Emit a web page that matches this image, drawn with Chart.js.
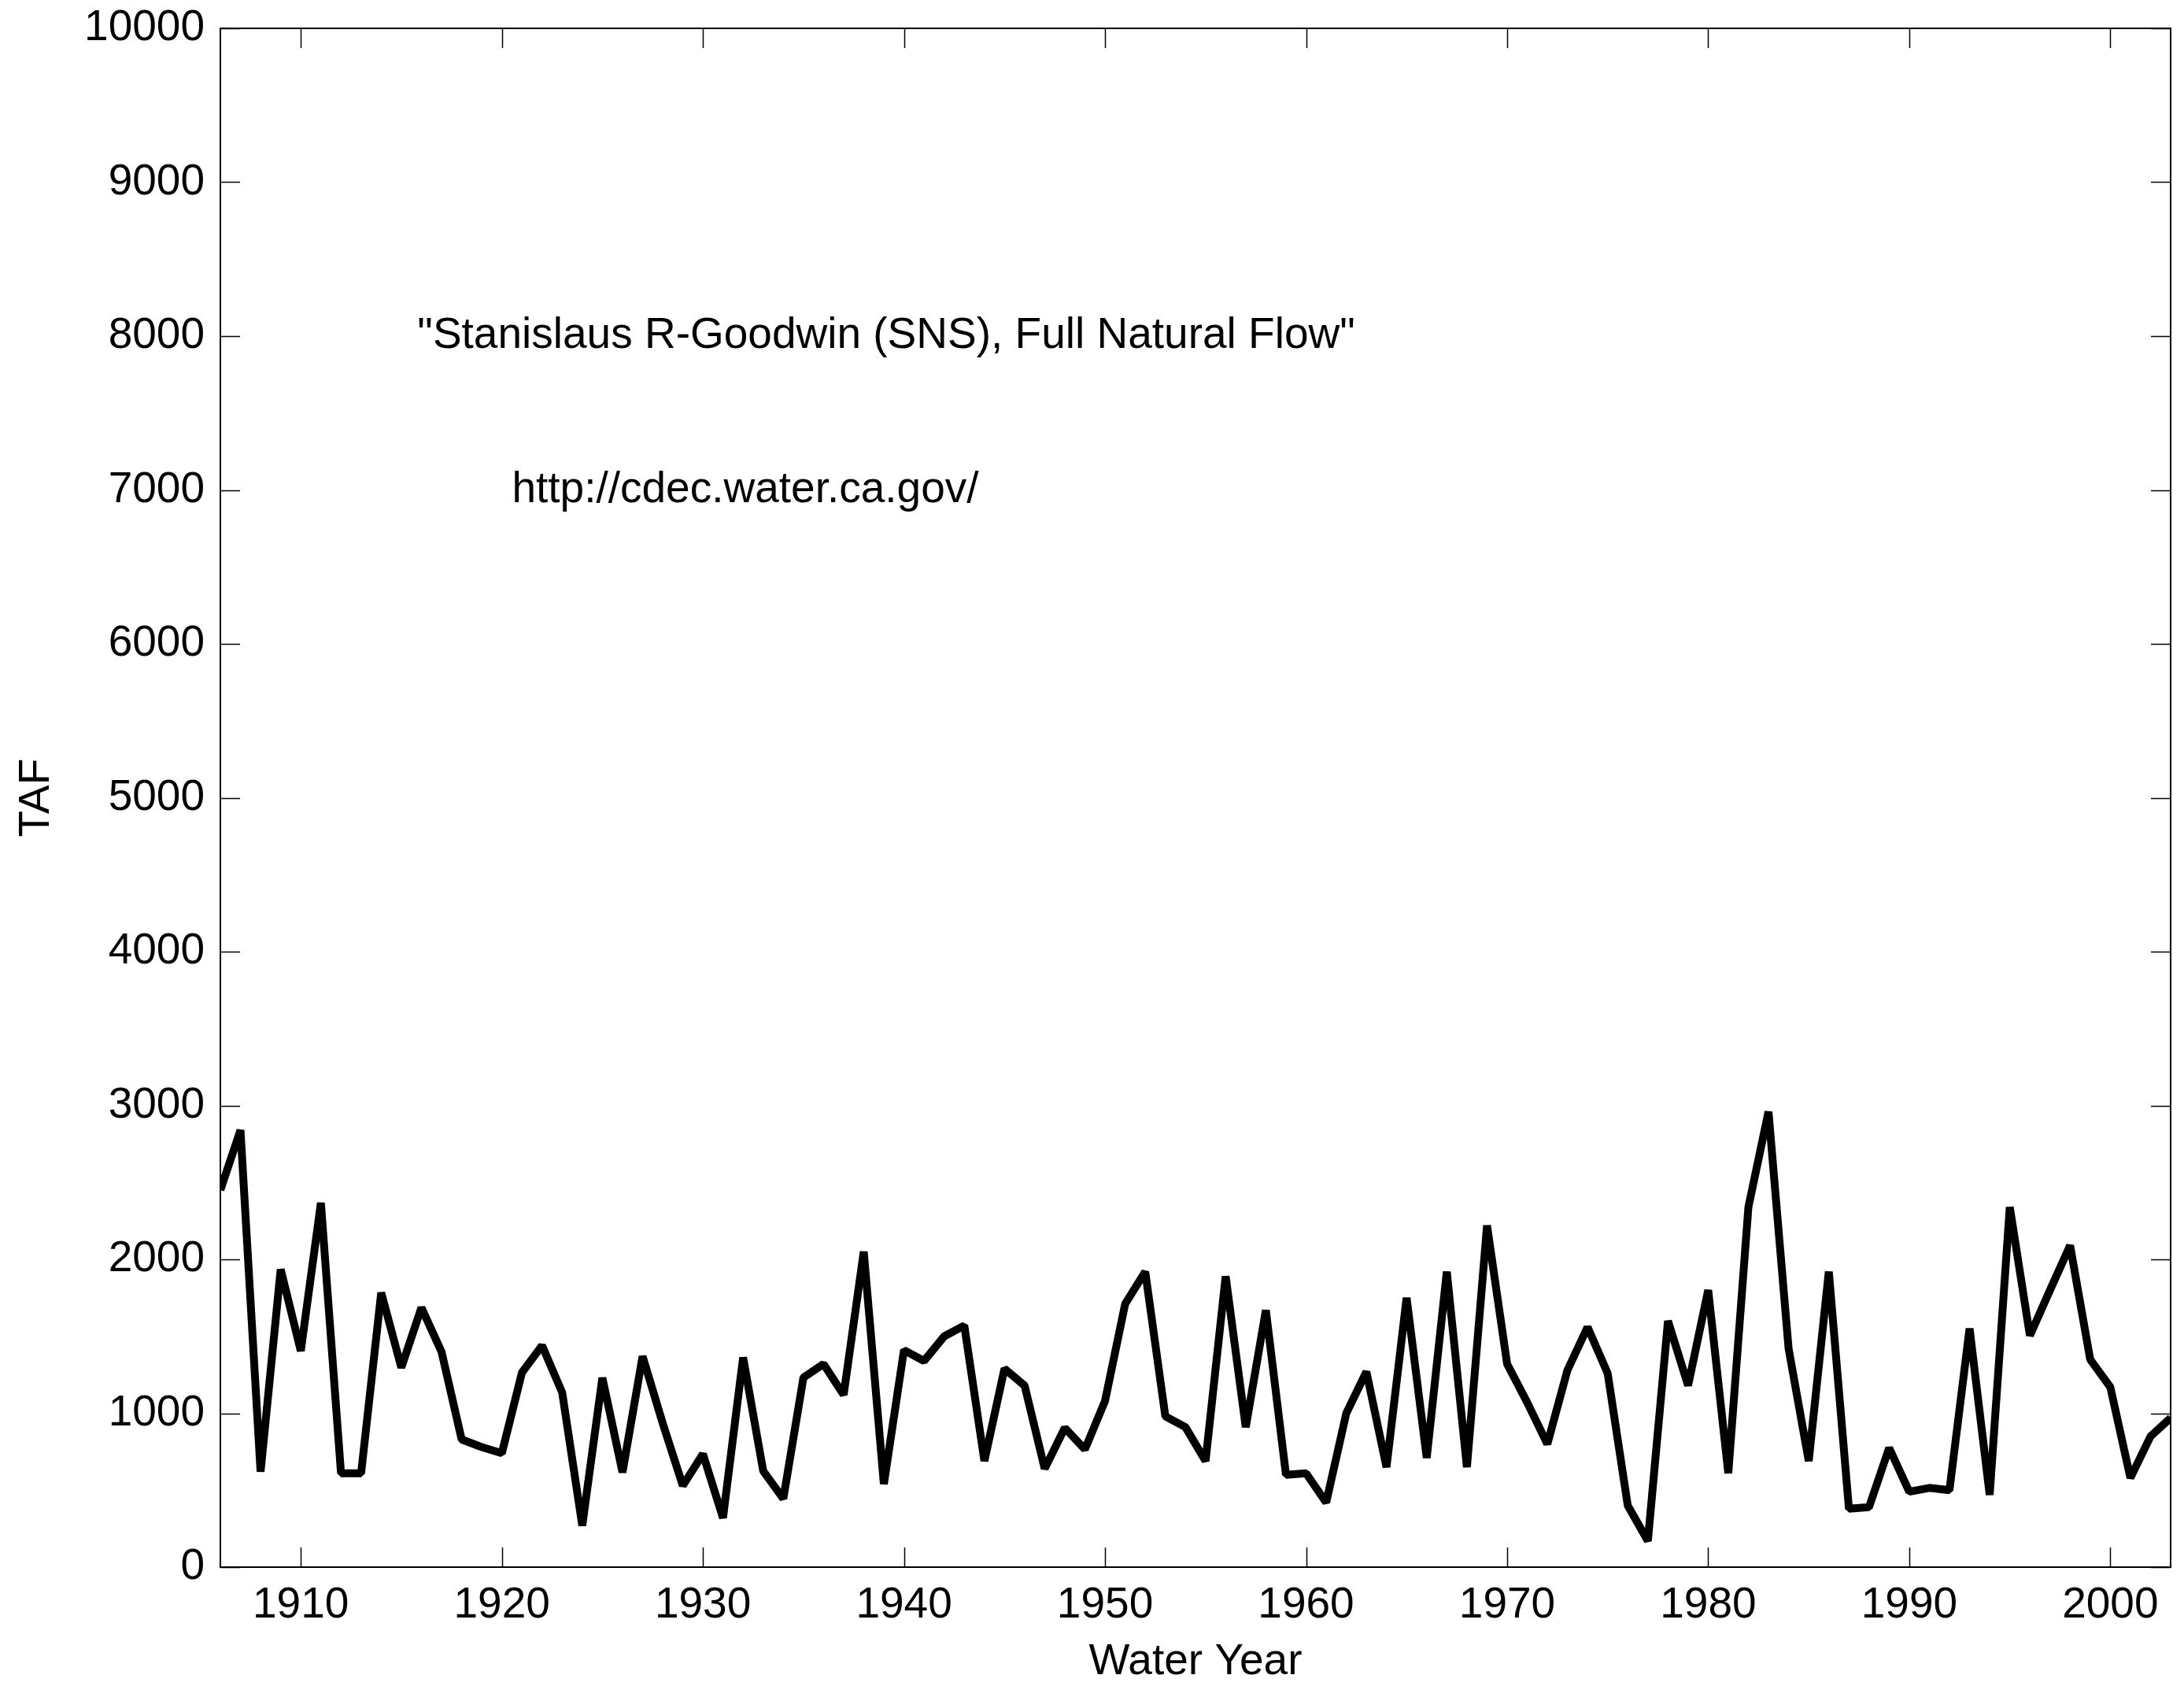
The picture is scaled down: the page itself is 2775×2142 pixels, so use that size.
<!DOCTYPE html>
<html>
<head>
<meta charset="utf-8">
<script src="https://cdn.jsdelivr.net/npm/chart.js@4.4.1/dist/chart.umd.min.js"></script>
<style>
  body { margin: 0; background: #fff; }
  #wrap { width: 2775px; height: 2142px; }
</style>
</head>
<body>
<div id="wrap"><canvas id="flowChart" width="2775" height="2142"></canvas></div>
<script>
// Water years and annual full natural flow (TAF)
var years = [];
for (var y = 1906; y <= 2003; y++) years.push(y);

var flow = [
  2450, 2840, 620, 1935, 1405, 2368, 610, 610, 1784, 1297,   // 1906-1915
  1686, 1400, 830, 780, 740, 1265, 1440, 1135, 270, 1230,    // 1916-1925
  616, 1370, 935, 530, 735, 320, 1362, 625, 445, 1232,       // 1926-1935
  1320, 1120, 2050, 540, 1410, 1340, 1500, 1570, 690, 1290,  // 1936-1945
  1180, 640, 905, 765, 1080, 1710, 1920, 980, 910, 690,      // 1946-1955
  1890, 910, 1670, 600, 610, 420, 1000, 1270, 650, 1750,     // 1956-1965
  710, 1920, 650, 2220, 1320, 1070, 800, 1280, 1560, 1260,   // 1966-1975
  400, 170, 1600, 1180, 1800, 610, 2340, 2960, 1420, 690,    // 1976-1985
  1920, 380, 390, 775, 490, 515, 500, 1550, 470, 2340,       // 1986-1995
  1505, 1800, 2090, 1350, 1170, 580, 850, 970                // 1996-2003
];

var xTicks = [1910, 1920, 1930, 1940, 1950, 1960, 1970, 1980, 1990, 2000];
var yTicks = [0, 1000, 2000, 3000, 4000, 5000, 6000, 7000, 8000, 9000, 10000];

// text annotations placed in data coordinates
var notes = [
  { text: '"Stanislaus R-Goodwin (SNS), Full Natural Flow"', x: 1915.8, y: 8000 },
  { text: 'http://cdec.water.ca.gov/', x: 1920.5, y: 7000 }
];

var FONT = '"Liberation Sans", Arial, sans-serif';
var TICK_LEN = 25;

// MATLAB-style box with inward ticks and the two text labels
var boxPlugin = {
  id: 'boxPlugin',
  afterDatasetsDraw: function(chart) {
    var ctx = chart.ctx;
    var a = chart.chartArea;
    var xs = chart.scales.x, ys = chart.scales.y;
    ctx.save();
    ctx.strokeStyle = '#000';
    ctx.lineWidth = 2;
    ctx.strokeRect(a.left, a.top, a.right - a.left, a.bottom - a.top);
    ctx.beginPath();
    xs.ticks.forEach(function(t) {
      var px = Math.round(xs.getPixelForValue(t.value)) + 0.5;
      ctx.moveTo(px, a.bottom); ctx.lineTo(px, a.bottom - TICK_LEN);
      ctx.moveTo(px, a.top); ctx.lineTo(px, a.top + TICK_LEN);
    });
    ys.ticks.forEach(function(t) {
      var py = Math.round(ys.getPixelForValue(t.value)) + 0.5;
      ctx.moveTo(a.left, py); ctx.lineTo(a.left + TICK_LEN, py);
      ctx.moveTo(a.right, py); ctx.lineTo(a.right - TICK_LEN, py);
    });
    ctx.lineWidth = 1.5;
    ctx.stroke();

    ctx.fillStyle = '#000';
    ctx.font = '55px ' + FONT;
    ctx.textAlign = 'left';
    ctx.textBaseline = 'middle';
    notes.forEach(function(n) {
      ctx.fillText(n.text, xs.getPixelForValue(n.x), ys.getPixelForValue(n.y));
    });
    ctx.restore();
  }
};

var ctx = document.getElementById('flowChart').getContext('2d');
var chart = new Chart(ctx, {
  type: 'line',
  data: {
    labels: years,
    datasets: [{
      data: years.map(function(yr, i) { return { x: yr, y: flow[i] }; }),
      borderColor: '#000',
      borderWidth: 10,
      borderJoinStyle: 'bevel',
      pointRadius: 0,
      tension: 0,
      fill: false
    }]
  },
  options: {
    responsive: false,
    devicePixelRatio: 1,
    animation: false,
    layout: { padding: { top: 36, right: 17, left: 0, bottom: 0 } },
    plugins: {
      legend: { display: false },
      tooltip: { enabled: false },
      title: { display: false }
    },
    scales: {
      x: {
        type: 'linear',
        min: 1906,
        max: 2003,
        afterBuildTicks: function(scale) {
          scale.ticks = xTicks.map(function(v) { return { value: v }; });
        },
        afterFit: function(scale) {
          scale.height = 151;
          scale.paddingLeft = 0;
          scale.paddingRight = 0;
        },
        grid: { display: false, drawTicks: false },
        border: { display: false },
        ticks: {
          color: '#000',
          padding: 16,
          maxRotation: 0,
          autoSkip: false,
          font: { family: FONT, size: 55 },
          callback: function(v) { return String(v); }
        },
        title: {
          display: true,
          text: 'Water Year',
          color: '#000',
          font: { family: FONT, size: 55 },
          padding: { top: 0, bottom: -3 }
        }
      },
      y: {
        min: 0,
        max: 10000,
        afterBuildTicks: function(scale) {
          scale.ticks = yTicks.map(function(v) { return { value: v }; });
        },
        afterFit: function(scale) {
          scale.width = 280;
          scale.paddingTop = 0;
          scale.paddingBottom = 0;
        },
        grid: { display: false, drawTicks: false },
        border: { display: false },
        ticks: {
          color: '#000',
          padding: 20,
          autoSkip: false,
          font: { family: FONT, size: 55 },
          callback: function(v) { return String(v); }
        },
        title: {
          display: true,
          text: 'TAF',
          color: '#000',
          font: { family: FONT, size: 55 },
          padding: { top: 14, bottom: 0 }
        }
      }
    }
  },
  plugins: [boxPlugin]
});
</script>
</body>
</html>
